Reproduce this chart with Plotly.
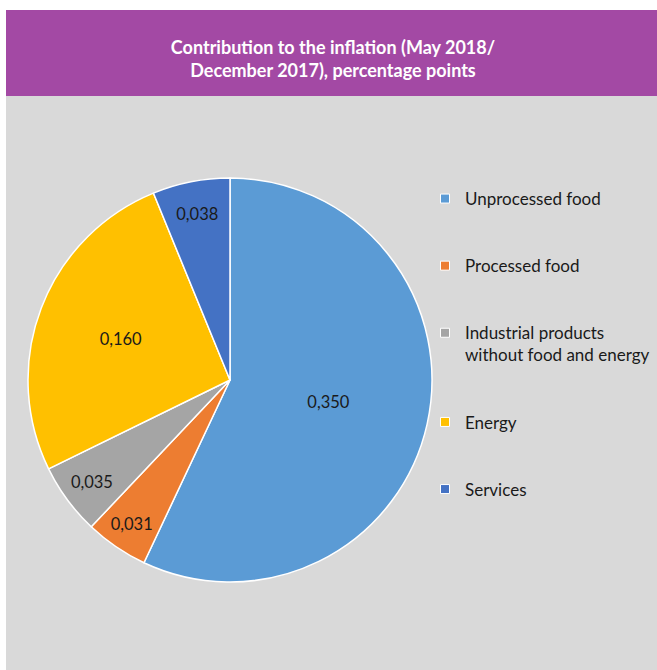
import plotly.graph_objects as go

categories = ["Unprocessed food", "Processed food", "Industrial products<br>without food and energy", "Energy", "Services"]
values = [0.350, 0.031, 0.035, 0.160, 0.038]
colors = ["#5B9BD5", "#ED7D31", "#A5A5A5", "#FFC000", "#4472C4"]
title_text = "Contribution to the inflation (May 2018/<br>December 2017), percentage points"

FONT = "Lato"
W, H = 657, 670

fig = go.Figure()
fig.add_trace(go.Pie(
    labels=categories, values=values, sort=False, direction="clockwise", rotation=0,
    marker=dict(colors=colors, line=dict(color="white", width=1.5)),
    texttemplate="%{value:.3f}", textposition="inside", insidetextorientation="horizontal",
    textfont=dict(family=FONT, size=16.5, color="#1a1a1a"),
    showlegend=False, hoverinfo="label+value",
    domain=dict(x=[27 / W, 433 / W], y=[(H - 582) / H, (H - 178) / H]),
))
for i, (c, col) in enumerate(zip(categories, colors)):
    fig.add_trace(go.Scatter(
        x=[None], y=[None], mode="markers", name=c, legendgroup=f"g{i}",
        marker=dict(symbol="square", size=9, color=col, line=dict(color="white", width=1)),
    ))

fig.update_layout(
    width=W, height=H, margin=dict(l=0, r=0, t=0, b=0),
    paper_bgcolor="white", plot_bgcolor="rgba(0,0,0,0)",
    separators=",.",
    xaxis=dict(visible=False), yaxis=dict(visible=False),
    uniformtext=dict(minsize=16, mode="show"),
    shapes=[
        dict(type="rect", xref="paper", yref="paper", x0=6 / W, x1=1, y0=0, y1=1 - 96 / H,
             fillcolor="#D9D9D9", line=dict(width=0), layer="below"),
        dict(type="rect", xref="paper", yref="paper", x0=6 / W, x1=1, y0=1 - 96 / H, y1=1 - 10 / H,
             fillcolor="#A349A4", line=dict(width=0), layer="below"),
    ],
    title=dict(text="<b>" + title_text + "</b>", x=333 / W, xanchor="center",
               y=1 - 54 / H, yanchor="middle", yref="paper",
               font=dict(family=FONT, size=18, color="white")),
    legend=dict(x=425 / W, y=1 - 181 / H, xanchor="left", yanchor="top",
                font=dict(family=FONT, size=17, color="#1a1a1a"),
                bgcolor="rgba(0,0,0,0)", tracegroupgap=42, valign="top",
                itemclick=False, itemdoubleclick=False),
)

fig.write_html("out.html", config={"displayModeBar": False},
               post_script="document.body.style.margin='0px';")
